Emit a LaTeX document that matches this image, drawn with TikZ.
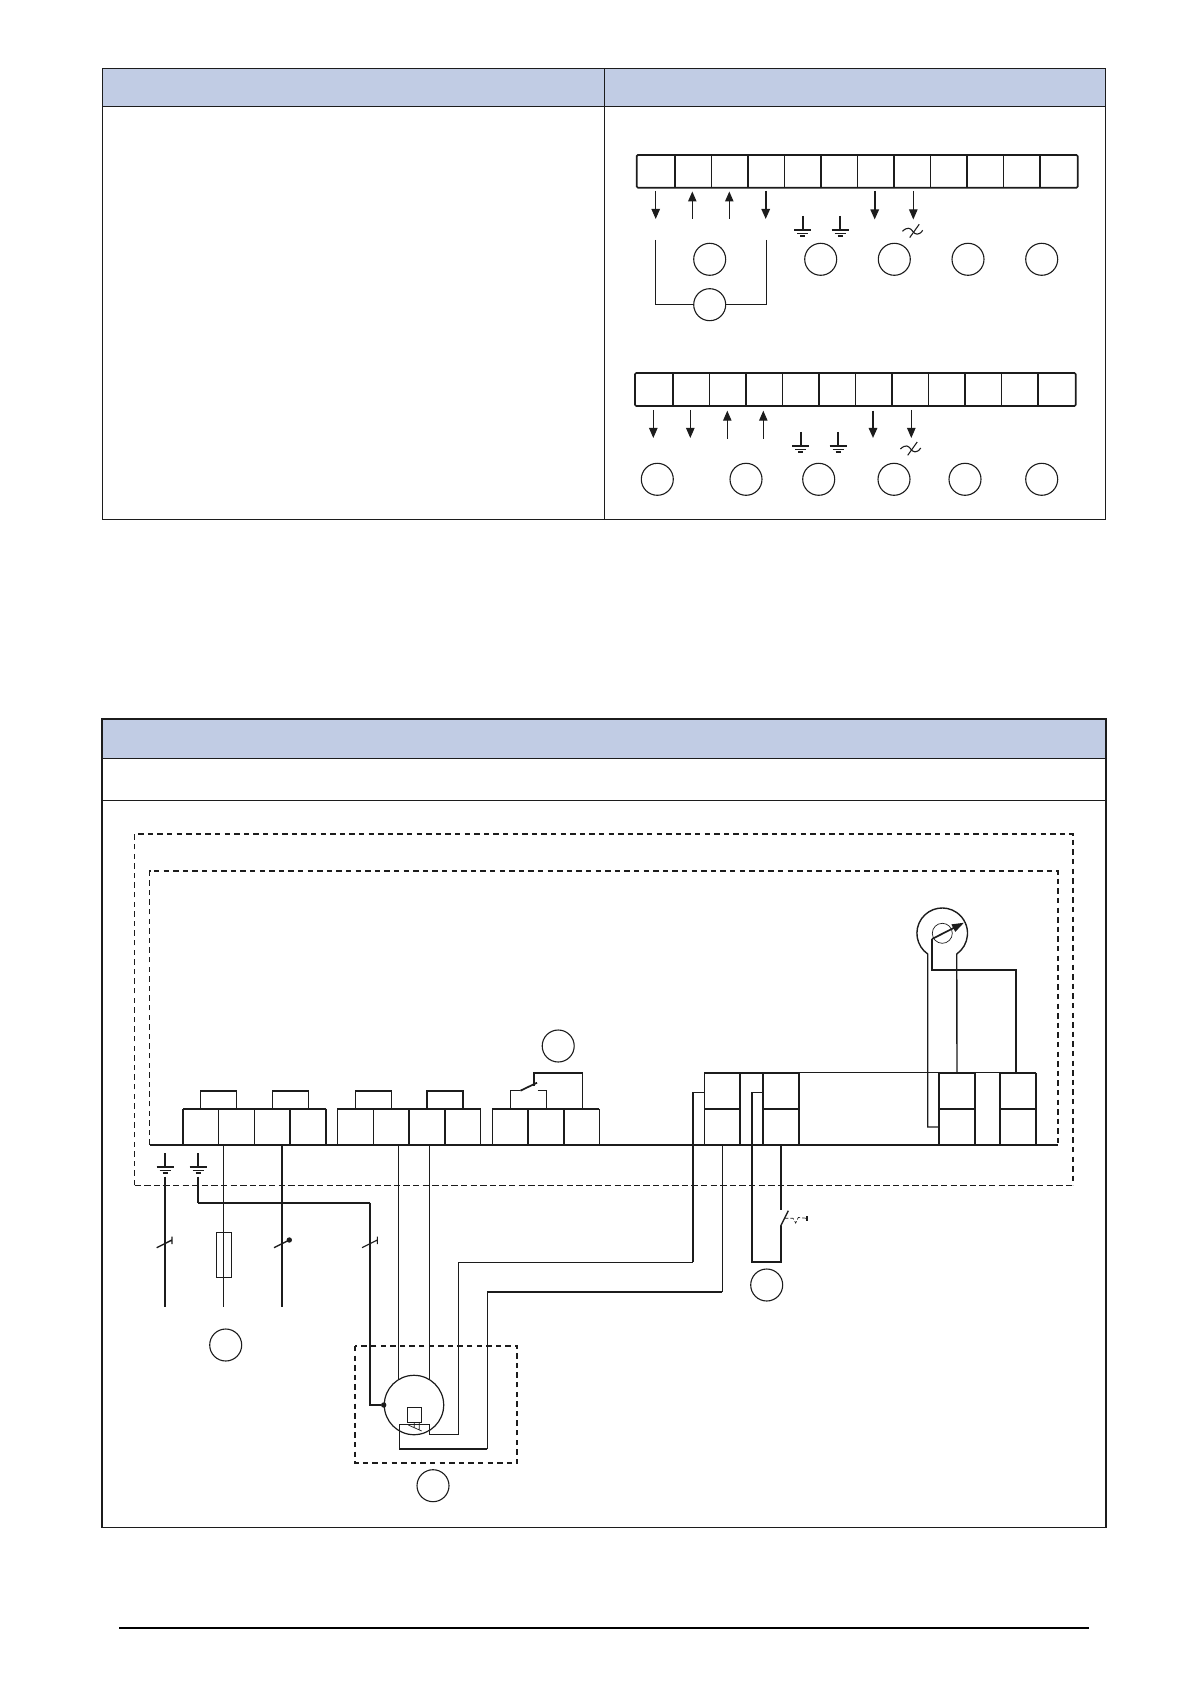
\documentclass[tikz,border=0pt]{standalone}
\usepackage{xcolor}
\usetikzlibrary{arrows.meta}
\definecolor{ink}{HTML}{1C1C1C}
\definecolor{headfill}{HTML}{C1CCE4}
\tikzset{
  rule/.style={draw=ink, line width=0.45pt},
  frame/.style={draw=ink, line width=0.8pt},
  thinwire/.style={draw=ink, line width=0.55pt},
  midwire/.style={draw=ink, line width=0.7pt},
  heavywire/.style={draw=ink, line width=0.85pt},
  dashbox/.style={draw=ink, line width=0.85pt, dash pattern=on 2.7pt off 2.1pt},
  dashthin/.style={draw=ink, line width=0.45pt, dash pattern=on 3.2pt off 1.6pt},
  callout/.style={circle, draw=ink, line width=0.55pt, minimum size=16pt, inner sep=0pt},
  downthin/.style={draw=ink, line width=0.5pt, -{Triangle[length=5pt,width=4.2pt]}},
  downheavy/.style={draw=ink, line width=0.85pt, -{Triangle[length=5pt,width=4.2pt]}},
  junction/.style={circle, fill=ink, minimum size=2.7pt, inner sep=0pt},
  earthmark/.pic={
    \draw[midwire] (-8.5,14) -- (8.5,14);
    \draw[thinwire] (-5.5,17.3) -- (5.5,17.3);
    \draw[thinwire] (-2.5,20) -- (2.5,20);
  },
  acmark/.pic={
    \draw[thinwire] (-10.3,0) .. controls (-5,-5) and (-2,-3) .. (0,0) .. controls (2,3) and (6,5) .. (10,-1);
    \draw[thinwire] (-3,6.3) -- (6.5,-7);
  },
}

\begin{document}
\begin{tikzpicture}[x=0.5pt,y=-0.5pt]
\useasboundingbox (0,0) rectangle (1191,1684);

% upper table
\fill[headfill] (102,68.3) rectangle (1105.7,106.3);
\draw[rule] (102,68.3) rectangle (1105.7,519.3);
\draw[rule] (102,106.3) -- (1105.7,106.3);
\draw[rule] (604.3,68.3) -- (604.3,519.3);

% first strip
\draw[heavywire, rounded corners=0.6pt] (636.7,155) rectangle (1077.7,187.7);
\draw[heavywire] (675,155) -- (675,187.7) (747.7,155) -- (747.7,187.7) (820.7,155) -- (820.7,187.7);
\draw[heavywire] (894,155) -- (894,187.7) (967,155) -- (967,187.7) (1040,155) -- (1040,187.7);
\draw[thinwire] (711.3,155) -- (711.3,187.7) (784.3,155) -- (784.3,187.7) (857.3,155) -- (857.3,187.7);
\draw[thinwire] (930.3,155) -- (930.3,187.7) (1003.3,155) -- (1003.3,187.7);
\draw[downthin] (655.7,191) -- (655.7,219);
\draw[downthin] (692.3,219) -- (692.3,191.5);
\draw[downthin] (729.3,219) -- (729.3,191.5);
\draw[downheavy] (765.7,191) -- (765.7,219);
\draw[downheavy] (874.7,191) -- (874.7,219.5);
\draw[downthin] (913.3,191) -- (913.3,219.5);
\draw[heavywire] (802.7,216) -- (802.7,229);
\pic at (802.7,216) {earthmark};
\draw[thinwire] (840,216) -- (840,229);
\pic at (840,216) {earthmark};
\pic at (912.7,231.3) {acmark};
\node[callout] (a1) at (709.7,259.3) {};
\node[callout] (a2) at (820.7,259.3) {};
\node[callout] (a3) at (894.3,259.3) {};
\node[callout] (a4) at (968,259.3) {};
\node[callout] (a5) at (1041.7,259.3) {};
\node[callout] (a6) at (709.7,304.7) {};
\coordinate (aleft) at (655.3,240);
\coordinate (aright) at (766.3,240);
\draw[thinwire] (aleft) |- (a6);
\draw[thinwire] (aright) |- (a6);

% second strip
\draw[heavywire, rounded corners=0.6pt] (635,373) rectangle (1075.7,406);
\draw[heavywire] (672.7,373) -- (672.7,406) (745.7,373) -- (745.7,406) (819,373) -- (819,406);
\draw[heavywire] (892,373) -- (892,406) (965.3,373) -- (965.3,406) (1038.3,373) -- (1038.3,406);
\draw[thinwire] (709.3,373) -- (709.3,406) (782.3,373) -- (782.3,406) (855.7,373) -- (855.7,406);
\draw[thinwire] (928.7,373) -- (928.7,406) (1001.7,373) -- (1001.7,406);
\draw[downthin] (653.3,410) -- (653.3,438);
\draw[downthin] (690.3,410) -- (690.3,438);
\draw[downthin] (727.3,439) -- (727.3,410.7);
\draw[downthin] (763.3,439) -- (763.3,410.7);
\draw[downheavy] (873,410.7) -- (873,438);
\draw[downthin] (911.3,410) -- (911.3,438);
\draw[heavywire] (800.7,432) -- (800.7,445);
\pic at (800.7,432) {earthmark};
\draw[thinwire] (838,432) -- (838,445);
\pic at (838,432) {earthmark};
\pic at (910.7,449) {acmark};
\node[callout] (b1) at (657.3,479.3) {};
\node[callout] (b2) at (746,479.3) {};
\node[callout] (b3) at (818.7,479.3) {};
\node[callout] (b4) at (894,479.3) {};
\node[callout] (b5) at (965,479.3) {};
\node[callout] (b6) at (1041.7,479.3) {};

% lower table
\fill[headfill] (102,719) rectangle (1106,758.3);
\draw[rule] (102,758.3) -- (1106,758.3);
\draw[rule] (102,800) -- (1106,800);
\draw[frame] (102,719) rectangle (1106,1527.5);

% housings
\draw[dashbox] (134.6,1185.3) -- (134.6,833.7) -- (1073,833.7) -- (1073,1185.3);
\draw[dashthin] (134.6,1185.3) -- (1073,1185.3);
\draw[dashbox] (149.6,1144.7) -- (149.6,870.7) -- (1058,870.7) -- (1058,1144.7);
\coordinate (base) at (149.6,1144.7);
\draw[heavywire] (base) -- (1058,1144.7);

% terminal groups
\draw[heavywire] (183,1108.7) -- (325.7,1108.7) (337.3,1108.7) -- (480.7,1108.7) (492.3,1108.7) -- (599.3,1108.7);
\draw[heavywire] (183,1108.7) -- (183,1144.7) (290,1108.7) -- (290,1144.7) (325.7,1108.7) -- (325.7,1144.7);
\draw[thinwire] (218.3,1108.7) -- (218.3,1144.7) (254.3,1108.7) -- (254.3,1144.7);
\draw[thinwire] (337.3,1108.7) -- (337.3,1144.7) (373.3,1108.7) -- (373.3,1144.7) (480.7,1108.7) -- (480.7,1144.7);
\draw[heavywire] (408.7,1108.7) -- (408.7,1144.7) (445,1108.7) -- (445,1144.7);
\draw[thinwire] (492.3,1108.7) -- (492.3,1144.7) (599.3,1108.7) -- (599.3,1144.7);
\draw[heavywire] (528.3,1108.7) -- (528.3,1144.7) (564,1108.7) -- (564,1144.7);

% links on top of the terminals
\draw[thinwire] (200.7,1108.7) -- (200.7,1090.7) -- (236.8,1090.7) -- (236.8,1108.7);
\draw[thinwire] (272.5,1108.7) -- (272.5,1090.7) -- (308.2,1090.7) -- (308.2,1108.7);
\draw[thinwire] (355.7,1108.7) -- (355.7,1090.7) -- (391.4,1090.7) -- (391.4,1108.7);
\draw[midwire] (427,1108.7) -- (427,1090.7) -- (463,1090.7) -- (463,1108.7);
\draw[heavywire] (200.7,1090.7) -- (236.8,1090.7) (272.5,1090.7) -- (308.2,1090.7) (355.7,1090.7) -- (391.4,1090.7) (427,1090.7) -- (463,1090.7);

% contact
\draw[thinwire] (510.7,1108.7) -- (510.7,1090.7) -- (520.4,1090.7);
\draw[heavywire] (520.4,1090.7) -- (537,1082.7);
\draw[thinwire] (537.5,1090.7) -- (546.4,1090.7) -- (546.4,1108.7);
\draw[heavywire] (534,1086) -- (534,1073) -- (582.5,1073);
\draw[thinwire] (582.5,1073) -- (582.5,1108.7);
\node[callout] (c1) at (558.2,1046) {};

% right terminals
\draw[thinwire] (704.3,1072.7) -- (704.3,1144.7);
\draw[heavywire] (704.3,1072.7) -- (799,1072.7) (938.7,1072.7) -- (975,1072.7) (1000,1072.7) -- (1036,1072.7);
\draw[midwire] (799,1072.7) -- (938.7,1072.7) (975,1072.7) -- (1000,1072.7);
\draw[heavywire] (740,1072.7) -- (740,1144.7) (763.3,1072.7) -- (763.3,1144.7) (799,1072.7) -- (799,1144.7);
\draw[heavywire] (938.7,1072.7) -- (938.7,1144.7) (975,1072.7) -- (975,1144.7);
\draw[heavywire] (1000,1072.7) -- (1000,1144.7) (1036,1072.7) -- (1036,1144.7);
\draw[heavywire] (704.3,1109) -- (740,1109) (763.3,1109) -- (799,1109) (938.7,1109) -- (975,1109) (1000,1109) -- (1036,1109);

% gauge
\coordinate (gleft) at (927.7,954);
\coordinate (gright) at (957,954);
\draw[midwire] (938.7,1127) -- (927.7,1127) -- (gleft) arc[start angle=125, end angle=415, radius=25.3] -- (957,1072.7);
\node[circle, thinwire, line width=0.35pt, minimum size=10pt, inner sep=0pt] (gdial) at (942.3,933.3) {};
\coordinate (gpivot) at (932,939);
\draw[heavywire, -{Triangle[length=6pt,width=4pt]}] (gpivot) -- (964,922.7);
\draw[heavywire] (gpivot) -- (932,969.7) -- (1016,969.7) -- (1016,1072.7);

% earths and supply
\draw[heavywire] (165,1153) -- (165,1166);
\pic at (165,1153) {earthmark};
\draw[heavywire] (198,1153) -- (198,1166);
\pic at (198,1153) {earthmark};
\coordinate (e1) at (165,1176.7);
\coordinate (e2) at (198,1176.7);
\draw[thinwire] (e1) -- (165,1306.7);
\draw[midwire] (e2) -- (198,1202.7);
\draw[heavywire] (198,1202.7) -- (370,1202.7);
\node[callout] (m1) at (225.7,1345) {};
\draw[thinwire] (223.3,1144.7) -- (223.3,1306.7);
\node[draw=ink, line width=0.75pt, minimum width=7.5pt, minimum height=22.3pt, inner sep=0pt] (fuse) at (223.8,1255) {};
\draw[heavywire] (282,1144.7) -- (282,1306.7);
\draw[midwire] (156.7,1247.7) -- (172,1240) (172,1236.7) -- (172,1244);
\draw[midwire] (274,1247.7) -- (289.3,1240);
\node[junction] (k1) at (289.3,1240) {};
\draw[thinwire] (362,1247.7) -- (377.3,1240) (377.3,1236.7) -- (377.3,1244);

% motor
\node[circle, draw=ink, line width=0.6pt, minimum size=29.7pt, inner sep=0pt] (motor) at (414,1405) {};
\node[junction] (mdot) at (motor.west) {};
\draw[midwire] (370,1202.7) |- (mdot);
\draw[thinwire] (motor.120) -- (motor.120 |- base);
\draw[thinwire] (motor.60) -- (motor.60 |- base);
\draw[midwire] (407.3,1407.3) rectangle (421.7,1422.7);
\draw[draw=ink, line width=0.35pt] (414.3,1422.7) -- (414.3,1428) (419.3,1422.7) -- (419.3,1430) (408.3,1425) -- (421.7,1431);
\draw[dashbox] (355.3,1346) rectangle (517.3,1463.3);
\node[callout] (m2) at (433,1485.7) {};

% wires to the right terminals
\draw[thinwire] (704.3,1092.3) -- (692.7,1092.3);
\draw[heavywire] (692.7,1092.3) -- (692.7,1262.3);
\draw[thinwire] (692.7,1262.3) -- (458.3,1262.3);
\draw[midwire] (458.3,1262.3) -- (458.3,1434.3) -- (429.3,1434.3) -- (429.3,1424.3) -- (399.3,1424.3);
\draw[thinwire] (722.3,1144.7) -- (722.3,1292);
\draw[heavywire] (722.3,1292) -- (487.3,1292);
\draw[midwire] (487.3,1292) -- (487.3,1449);
\draw[heavywire] (487.3,1449) -- (399.3,1449);
\draw[thinwire] (399.3,1449) -- (399.3,1424.3);
\draw[thinwire] (762.7,1092.3) -- (751.7,1092.3);
\draw[heavywire] (751.7,1092.3) -- (751.7,1261.7) -- (780.7,1261.7) -- (780.7,1226);
\draw[heavywire] (780.7,1144.7) -- (780.7,1210);
\draw[midwire] (780.7,1226) -- (788.3,1210.7);
\draw[draw=ink, line width=0.35pt, dash pattern=on 2pt off 1pt] (784.3,1218.3) -- (793,1218.3) -- (795.7,1223) -- (798.3,1217.5) -- (807,1218.3);
\draw[thinwire] (807,1216) -- (807,1221.3);
\node[callout] (s1) at (766.7,1285) {};

% footer
\draw[black, line width=1.1pt] (119.3,1627.7) -- (1088.5,1627.7);
\end{tikzpicture}
\end{document}
